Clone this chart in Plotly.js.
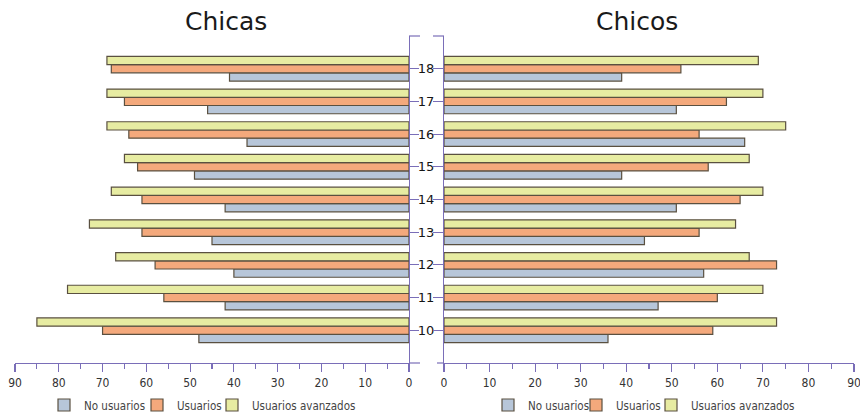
<!DOCTYPE html>
<html>
<head>
<meta charset="utf-8">
<script src="https://cdn.plot.ly/plotly-3.0.1.min.js"></script>
<style>
html,body{margin:0;padding:0;background:#fff;}
#chart{width:860px;height:415px;}
</style>
</head>
<body>
<div id="chart"></div>
<script>
// ages (categories)
const ages = [10, 11, 12, 13, 14, 15, 16, 17, 18];
const seriesNames = ["No usuarios", "Usuarios", "Usuarios avanzados"];

// Chicas (girls), values per age 10..18
const chicasNoUsuarios = [48, 42, 40, 45, 42, 49, 37, 46, 41];
const chicasUsuarios   = [70, 56, 58, 61, 61, 62, 64, 65, 68];
const chicasAvanzados  = [85, 78, 67, 73, 68, 65, 69, 69, 69];

// Chicos (boys), values per age 10..18
const chicosNoUsuarios = [36, 47, 57, 44, 51, 39, 66, 51, 39];
const chicosUsuarios   = [59, 60, 73, 56, 65, 58, 56, 62, 52];
const chicosAvanzados  = [73, 70, 67, 64, 70, 67, 75, 70, 69];

const xTickVals = [0, 10, 20, 30, 40, 50, 60, 70, 80, 90];
const panelTitles = ["Chicas", "Chicos"];

// styles
const colors = ["#b7c6d9", "#f4a97c", "#e7eca2"];
const outline = "#5a5040";
const axisColor = "#7a6eb8";
const W = 860, H = 415, T = 36, B = 52;
const plotH = H - T - B;
const px = v => v / W;
const py = v => (H - B - v) / plotH;

const leftData = [chicasNoUsuarios, chicasUsuarios, chicasAvanzados];
const rightData = [chicosNoUsuarios, chicosUsuarios, chicosAvanzados];

const traces = [];
leftData.forEach((vals, i) => {
  traces.push({
    type: "bar", orientation: "h", x: vals, y: ages, name: seriesNames[i],
    xaxis: "x", yaxis: "y",
    marker: {color: colors[i], line: {color: outline, width: 1.2}},
    legend: i === 0 ? "legend" : "legend" + (i + 1),
    hoverinfo: "x+y+name"
  });
});
rightData.forEach((vals, i) => {
  traces.push({
    type: "bar", orientation: "h", x: vals, y: ages, name: seriesNames[i],
    xaxis: "x2", yaxis: "y2",
    marker: {color: colors[i], line: {color: outline, width: 1.2}},
    legend: "legend" + (i + 4),
    hoverinfo: "x+y+name"
  });
});

const tickFont = {family: "DejaVu Sans Condensed, DejaVu Sans", size: 12, color: "#333"};
const legendFont = {family: "DejaVu Sans Condensed, DejaVu Sans", size: 11.5, color: "#444"};

const xCommon = {
  range: [0, 90], tickvals: xTickVals, ticks: "outside", ticklen: 8, tickwidth: 1.2,
  tickcolor: axisColor, showline: true, linecolor: axisColor, linewidth: 1.2,
  showgrid: false, zeroline: false, tickfont: tickFont, ticklabeloverflow: "allow",
  minor: {dtick: 5, tick0: 0, ticks: "outside", ticklen: 5, tickcolor: axisColor, tickwidth: 1.2, showgrid: false},
  fixedrange: true
};

// legend box left edges (px)
const legendX = [44, 137, 212, 488, 576, 651];
const legendY = 405;
const legends = {};
legendX.forEach((lx, i) => {
  const key = i === 0 ? "legend" : "legend" + (i + 1);
  legends[key] = {
    x: px(lx), xanchor: "left", y: py(legendY), yanchor: "middle",
    orientation: "h", font: legendFont, bgcolor: "rgba(0,0,0,0)", borderwidth: 0,
    itemclick: false, itemdoubleclick: false
  };
});

const layout = Object.assign({
  width: W, height: H,
  margin: {l: 0, r: 0, t: T, b: B, autoexpand: false},
  paper_bgcolor: "#ffffff", plot_bgcolor: "rgba(0,0,0,0)",
  barmode: "group", bargap: 0.245, bargroupgap: 0,
  showlegend: true,
  xaxis: Object.assign({}, xCommon, {domain: [px(15), px(409)], range: [90, 0], anchor: "y"}),
  xaxis2: Object.assign({}, xCommon, {domain: [px(444), px(854)], range: [0, 90], anchor: "y2"}),
  yaxis: {
    anchor: "x", side: "right", range: [9, 19], tickvals: ages, ticktext: ages.map(String),
    ticks: "outside", ticklen: 9, tickwidth: 1.2, tickcolor: axisColor, ticklabelstandoff: -4,
    showline: true, linecolor: axisColor, linewidth: 1.2, showgrid: false, zeroline: false,
    tickfont: {family: "DejaVu Sans", size: 13, color: "#151515"}, fixedrange: true
  },
  yaxis2: {
    anchor: "x2", side: "left", range: [9, 19], tickvals: ages, showticklabels: false,
    ticks: "outside", ticklen: 10, tickwidth: 1.2, tickcolor: axisColor,
    showline: true, linecolor: axisColor, linewidth: 1.2, showgrid: false, zeroline: false,
    fixedrange: true
  },
  annotations: [
    {text: panelTitles[0], x: px(226), y: py(21), xref: "paper", yref: "paper",
     xanchor: "center", yanchor: "middle", showarrow: false,
     font: {family: "DejaVu Sans", size: 25, color: "#1a1a1a"}},
    {text: panelTitles[1], x: px(637), y: py(21), xref: "paper", yref: "paper",
     xanchor: "center", yanchor: "middle", showarrow: false,
     font: {family: "DejaVu Sans", size: 25, color: "#1a1a1a"}}
  ],
  shapes: [
    {type: "line", xref: "paper", yref: "paper", x0: px(409), x1: px(420), y0: 1, y1: 1, line: {color: axisColor, width: 1.2}},
    {type: "line", xref: "paper", yref: "paper", x0: px(433), x1: px(444), y0: 1, y1: 1, line: {color: axisColor, width: 1.2}},
    {type: "line", xref: "paper", yref: "paper", x0: px(409), x1: px(420), y0: 0, y1: 0, line: {color: axisColor, width: 1.2}},
    {type: "line", xref: "paper", yref: "paper", x0: px(437), x1: px(444), y0: 0, y1: 0, line: {color: axisColor, width: 1.2}}
  ]
}, legends);

Plotly.newPlot("chart", traces, layout, {displayModeBar: false, staticPlot: true});
</script>
</body>
</html>
